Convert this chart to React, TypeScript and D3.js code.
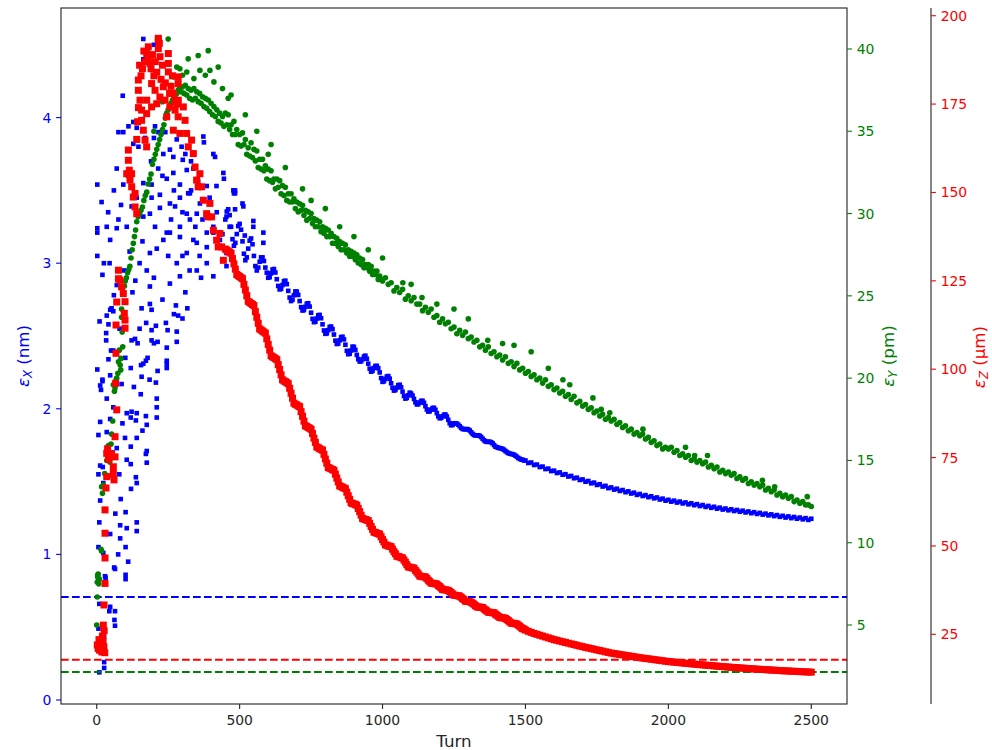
import React from 'react';
import * as d3 from 'd3';

// ---------- axis ticks ----------
const turnTicks = [0, 500, 1000, 1500, 2000, 2500];
const epsXTicks = [0, 1, 2, 3, 4];
const epsYTicks = [5, 10, 15, 20, 25, 30, 35, 40];
const epsZTicks = [25, 50, 75, 100, 125, 150, 175, 200];

// ---------- equilibrium levels (dashed lines) ----------
const epsXEq = 0.707;
const epsYEq = 2.14;
const epsZEq = 17.8;

// ---------- early, scattered phase: [turn, value] ----------
const epsXEarly: [number, number][] = [
  [163,4.54],[200,4.50],[163,4.40],[91,4.15],[128,3.97],[111,3.94],[76,3.90],[93,3.90],[140,3.93],[169,3.86],
  [128,3.82],[146,3.80],[204,3.94],[216,3.90],[200,3.86],[233,3.75],[256,3.78],[268,3.73],[297,3.80],[301,3.71],
  [70,3.65],[93,3.54],[2,3.54],[137,3.46],[163,3.55],[192,3.54],[221,3.47],[245,3.58],[268,3.62],[291,3.54],
  [315,3.64],[338,3.65],[320,3.48],[355,3.56],[17,3.42],[76,3.30],[70,3.24],[35,3.25],[2,3.24],[2,3.21],
  [47,3.16],[105,3.25],[122,3.39],[192,3.45],[163,3.32],[204,3.25],[245,3.21],[274,3.39],[315,3.34],[361,3.41],
  [291,3.18],[338,3.16],[385,3.11],[408,3.21],[454,3.32],[484,3.50],[484,3.48],[484,3.37],[518,3.19],
  [373,3.87],[375,3.83],[408,3.75],[414,3.73],[443,3.62],[445,3.58],[478,3.50],[480,3.48],[510,3.41],[513,3.39],
  [548,3.29],[548,3.25],[583,3.21],[583,3.14],
  [419,3.53],[385,3.53],[326,3.48],[291,3.45],[256,3.41],[221,3.38],[186,3.34],[350,3.34],[326,3.30],[291,3.25],
  [256,3.21],[233,3.16],[210,3.10],[186,3.07],[315,3.07],[350,3.14],[385,3.21],[408,3.25],[431,3.16],[454,3.07],
  [385,3.00],[350,2.95],[291,2.91],[256,2.86],[186,2.84],[408,2.91],[454,2.98],
  [2,3.05],[20,2.92],[45,3.0],[70,2.85],[95,2.95],[115,3.08],[135,2.88],[150,3.0],[175,2.95],[60,2.78],[125,2.8],
  [52,2.69],[58,2.67],[35,2.64],[47,2.68],[157,2.69],[186,2.72],[192,2.68],[277,2.71],[317,2.69],[285,2.64],
  [41,2.58],[173,2.59],[207,2.57],[242,2.59],[192,2.54],[248,2.54],[280,2.53],[33,2.52],[33,2.47],[122,2.47],
  [134,2.48],[143,2.45],[192,2.47],[213,2.46],[280,2.46],[58,2.40],[41,2.34],[119,2.28],[155,2.30],[163,2.31],
  [172,2.33],[178,2.35],[245,2.42],[245,2.33],[245,2.31],[245,2.28],[2,2.27],[47,2.23],[20,2.20],[20,2.19],
  [213,2.26],[157,2.22],[12,2.16],[15,2.13],[87,2.17],[207,2.18],[35,2.07],[154,2.10],[210,2.07],[210,2.01],
  [210,1.94],[58,2.01],[47,1.93],[12,1.91],[105,1.97],[119,1.94],[122,1.98],[140,1.97],[137,1.92],[172,1.95],
  [175,1.89],[6,1.82],[35,1.84],[99,1.80],[140,1.80],[119,1.74],[70,1.73],[175,1.71],[172,1.69],[105,1.65],
  [119,1.62],[175,1.63],[12,1.61],[21,1.60],[6,1.55],[79,1.55],[137,1.53],[140,1.49],[23,1.49],[12,1.37],
  [84,1.38],[65,1.28],[101,1.29],[9,1.22],[47,1.14],[82,1.20],[105,1.18],[140,1.22],[140,1.16],[82,1.11],
  [101,1.05],[6,1.05],[23,1.01],[61,0.91],[64,0.90],[31,0.84],[101,0.86],[101,0.83],
  [29,0.85],[9,0.66],[47,0.64],[44,0.61],[64,0.61],[62,0.55],[64,0.51],[6,0.49],[26,0.435],[26,0.26],
  [26,0.22],[9,0.19],
  [230,3.6],[260,3.3],[280,3.0],[300,3.35],[330,3.5],[345,3.25],[360,3.05],[370,3.3],[395,3.45],[420,3.35],
  [440,3.2],[465,3.25],[270,3.5],[310,3.75],[240,3.9],[280,3.85],[330,3.7],[215,3.65],[190,3.7],[250,3.05],
  [300,3.05],[325,2.95],[365,2.9],[230,2.75],[270,2.65],[300,2.62],[310,2.8],[200,2.9],[160,3.15],[140,3.45],
  [110,3.6],[85,3.4],[60,3.5],[40,3.35],[25,3.0],[10,2.6],[50,2.4],[80,2.55],[100,2.35],[130,2.15],
  [150,2.55],[185,2.2],[200,2.45],[160,1.85],[120,1.45],[90,1.9],[55,1.7],[30,1.3],[75,1.0],[110,0.95],
];

const epsYEarly: [number, number][] = [
  [0,5.0],[2,6.7],[2,7.6],[4,7.9],[5,8.1],[6,7.7],[3,8.0],[7,7.5],[9,7.8],[15,9.6],
  [17,9.5],[17,13.4],[20,13.0],[23,13.5],[28,14.2],[35,15.0],[41,14.05],[41,15.9],[46,14.9],[50,16.0],
  [52,16.6],[56,17.4],[58,19.6],[62,19.2],[64,19.4],[68,19.9],[70,20.0],[74,20.3],[76,21.0],[79,21.7],
  [82,20.8],[84,20.5],[85,21.2],[87,23.7],[87,24.2],[89,22.8],[91,21.9],[93,25.2],[97,25.6],[100,25.9],
  [104,26.1],[108,26.4],[112,26.6],[116,26.8],[120,27.3],[124,27.8],[128,28.2],[132,28.6],[136,29.0],[140,29.5],
  [145,29.8],[150,30.0],[155,30.2],[160,30.4],[165,30.8],[170,31.1],[175,31.3],[180,31.8],[185,32.1],[190,32.4],
  [195,33.0],[200,33.3],[205,33.6],[210,33.9],[215,34.2],[220,34.5],[225,34.8],[230,35.1],[235,35.4],[240,35.8],
  [245,36.1],[250,36.3],[255,36.5],[260,36.7],[265,36.9],[270,37.0],[275,37.2],[280,37.3],[285,37.5],[290,37.6],
  [295,37.4],[300,37.7],[305,37.3],[310,37.8],[315,37.2],[320,37.6],[325,37.0],[330,37.5],[335,36.9],[340,37.6],
  [345,37.0],[350,37.4],[355,36.8],[360,37.3],[365,36.7],[370,37.1],[375,36.5],[380,37.0],[385,36.4],[390,36.9],
  [395,36.2],[400,36.7],[405,36.0],[410,36.5],[415,35.9],[420,36.3],[425,35.6],[430,36.1],[435,35.5],[440,35.9],
  [445,35.3],
  [250,40.6],[320,39.4],[355,39.6],[390,39.9],[291,38.8],[315,38.6],[361,38.7],[396,38.7],[425,38.9],[270,38.3],
  [300,38.4],[340,38.2],[380,38.4],[410,38.0],[440,37.6],[460,37.0],[230,36.8],[200,35.0],[260,37.8],[280,38.9],
];

const epsZEarly: [number, number][] = [
  [2,22],[5,21],[8,23.5],[10,20.5],[12,22],[15,21],[18,20],[20,24.5],[22,23],[25,21.5],
  [26,26],[28,19.8],[23,27.6],[25.5,33.3],[29,39.4],[29,46.6],[29,53.6],[29,60.2],[32.5,66.4],[35,69.6],
  [58,70.5],[60.5,68.7],[58,72.4],[46.5,75.2],[35,76.2],[38,77.5],[52,76],[64,75.2],[41,74.5],[64,80.9],
  [70,88.5],[66,96],[67.5,104.5],[67.5,112.5],[99,111.6],[99,113.9],[96.5,115.8],[70,119],[99,119.1],[76,128],
  [81.5,125.2],[87,123.3],[93,121.4],[76,125.6],
  [110.6,162],[110.6,159.1],[114,156.3],[116.4,153.5],[122.3,151.6],[128,148.7],[134,145.9],[140,144],[105,155.3],[122,155.3],
  [134,149.7],[140,165],[143,170],[146,174],
  [145.6,181.8],[145.6,178.9],[151.4,176.1],[157.2,173.3],[157,170.4],[163,167.6],[169,164.8],[174.7,162.9],[180.5,191.2],[180.5,188.4],
  [186.4,186.5],[174.7,176.1],[175,189.3],[215.5,193.6],[219,192.2],
  [215.5,193.1],[215.5,190.7],[221.3,188.4],[250.5,189.3],[250.5,186.5],[250.5,184.1],[192,180.8],[204,178.9],[221,177],[239,176.1],
  [256,174.2],[274,173.3],[285.4,176.1],[285,180.8],[285,182.7],[285,171.4],[268,178],[233,179.9],[210,175.1],[192,174.2],
  [174.7,172.3],[245,171.4],[268,167.6],[291,166.7],
  [190,185],[200,183],[210,184],[225,182],[240,181],[260,180],[275,176],[230,186],[195,189],[205,187],
  [255,178],[265,183],[280,175],[160,185],[165,190],[170,187],[150,186],[155,183],
  [303,174.2],[309,170.4],[314.6,166.7],[320.4,162.9],[332,164.8],[338,161],[344,157.2],[349.5,153.5],[355,151.6],[361,155.3],
  [367,151.6],[373,147.8],[384.5,144],[390,143.1],[396,146.9],[402,143.1],[408,139.3],[419.5,136.5],[425,134.6],[431,138.4],
  [437,134.6],[443,130.8],
];

// ---------- decay phase ----------
// blue and red: every 5 turns from 450 to 1495, then every 10 turns to 2500
const fineTurnsXZ = d3.range(450, 1500, 5);
const coarseTurnsXZ = d3.range(1500, 2501, 10);
// green: every 5 turns from 450 to 995, then every 10 turns to 2500
const fineTurnsY = d3.range(450, 1000, 5);
const coarseTurnsY = d3.range(1000, 2501, 10);

const epsXFine = [
  3.30, 3.355, 3.37, 3.33, 3.25, 3.165, 3.12, 3.14, 3.20, 3.255,
  3.27, 3.23, 3.15, 3.065, 3.02, 3.04, 3.10, 3.155, 3.17, 3.13,
  3.05, 2.98, 2.95, 2.97, 3.01, 3.04, 3.04, 3.015, 2.97, 2.935,
  2.90, 2.904, 2.93, 2.956, 2.96, 2.936, 2.89, 2.844, 2.82, 2.824,
  2.85, 2.876, 2.88, 2.856, 2.81, 2.764, 2.74, 2.749, 2.78, 2.806,
  2.805, 2.782, 2.74, 2.698, 2.675, 2.678, 2.70, 2.722, 2.725, 2.702,
  2.66, 2.618, 2.595, 2.598, 2.62, 2.642, 2.645, 2.622, 2.58, 2.538,
  2.515, 2.518, 2.54, 2.562, 2.565, 2.547, 2.51, 2.468, 2.445, 2.448,
  2.47, 2.492, 2.495, 2.477, 2.44, 2.398, 2.375, 2.378, 2.40, 2.427,
  2.425, 2.404, 2.37, 2.341, 2.325, 2.326, 2.34, 2.359, 2.365, 2.344,
  2.31, 2.276, 2.255, 2.261, 2.28, 2.294, 2.295, 2.279, 2.25, 2.211,
  2.185, 2.189, 2.205, 2.222, 2.225, 2.207, 2.175, 2.144, 2.125, 2.129,
  2.145, 2.162, 2.165, 2.148, 2.118, 2.088, 2.07, 2.075, 2.093, 2.111,
  2.105, 2.091, 2.068, 2.045, 2.03, 2.032, 2.043, 2.054, 2.055, 2.041,
  2.018, 1.995, 1.981, 1.983, 1.994, 2.005, 2.007, 1.993, 1.97, 1.948,
  1.935, 1.937, 1.948, 1.959, 1.961, 1.947, 1.924, 1.901, 1.887, 1.889,
  1.90, 1.901, 1.898, 1.891, 1.88, 1.869, 1.862, 1.859, 1.86, 1.861,
  1.858, 1.851, 1.839, 1.828, 1.82, 1.817, 1.817, 1.818, 1.814, 1.806,
  1.795, 1.784, 1.776, 1.773, 1.773, 1.774, 1.77, 1.763, 1.751, 1.74,
  1.736, 1.732, 1.73, 1.728, 1.724, 1.718, 1.71, 1.702, 1.696, 1.692,
  1.69, 1.688, 1.684, 1.678, 1.67, 1.662, 1.656, 1.652, 1.65, 1.645,
];

const epsXCoarse = [
  1.645, 1.628, 1.631, 1.614, 1.617,
  1.600, 1.603, 1.586, 1.589, 1.572, 1.575, 1.559, 1.563, 1.547, 1.551,
  1.535, 1.539, 1.523, 1.527, 1.511, 1.515, 1.499, 1.504, 1.488, 1.493,
  1.477, 1.482, 1.466, 1.471, 1.455, 1.46, 1.445, 1.451, 1.436, 1.442,
  1.427, 1.433, 1.418, 1.424, 1.409, 1.415, 1.401, 1.407, 1.393, 1.399,
  1.385, 1.391, 1.377, 1.383, 1.369, 1.375, 1.362, 1.369, 1.356, 1.363,
  1.35, 1.357, 1.344, 1.351, 1.338, 1.345, 1.332, 1.339, 1.326, 1.333,
  1.32, 1.327, 1.314, 1.321, 1.308, 1.315, 1.303, 1.31, 1.298, 1.305,
  1.293, 1.30, 1.288, 1.295, 1.283, 1.29, 1.278, 1.285, 1.273, 1.28,
  1.268, 1.275, 1.263, 1.27, 1.258, 1.265, 1.253, 1.261, 1.249, 1.257,
  1.245, 1.253, 1.241, 1.249, 1.237, 1.245,
];

const epsZFine = [
  134, 133.7, 133.4, 133.1, 132.8, 131.3, 129.8, 128.3,
  126.8, 126.5, 126.2, 125.9, 125.6, 124.0, 122.4, 120.8,
  119.2, 118.9, 118.6, 118.3, 118.0, 116.3, 114.7, 113.0,
  111.4, 111.1, 110.8, 110.5, 110.2, 108.6, 107.0, 105.4,
  103.8, 103.5, 103.3, 103.0, 102.7, 101.3, 99.9, 98.4,
  97.0, 96.7, 96.5, 96.2, 95.9, 94.6, 93.2, 91.8,
  90.4, 90.1, 89.9, 89.6, 89.4, 88.0, 86.7, 85.3,
  84.0, 83.8, 83.5, 83.3, 83.0, 81.8, 80.5, 79.3,
  78.0, 77.8, 77.5, 77.3, 77.1, 75.9, 74.6, 73.4,
  72.2, 72.0, 71.8, 71.6, 71.4, 70.3, 69.2, 68.1,
  67.0, 66.8, 66.6, 66.4, 66.2, 65.2, 64.2, 63.2,
  62.2, 62.0, 61.9, 61.7, 61.5, 60.6, 59.7, 58.7,
  57.8, 57.6, 57.5, 57.3, 57.2, 56.4, 55.5, 54.7,
  53.9, 53.8, 53.6, 53.5, 53.3, 52.6, 51.8, 51.1,
  50.3, 50.2, 50.0, 49.9, 49.8, 49.1, 48.4, 47.8,
  47.1, 47.0, 46.9, 46.7, 46.6, 46.0, 45.4, 44.7,
  44.1, 44.0, 43.9, 43.8, 43.7, 43.1, 42.6, 42.1,
  41.5, 41.4, 41.3, 41.3, 41.2, 40.8, 40.3, 39.9,
  39.5, 39.4, 39.4, 39.3, 39.2, 38.8, 38.5, 38.1,
  37.7, 37.6, 37.6, 37.5, 37.4, 37.1, 36.8, 36.4,
  36.1, 36.0, 36.0, 35.9, 35.8, 35.5, 35.1, 34.8,
  34.4, 34.3, 34.3, 34.2, 34.1, 33.8, 33.5, 33.1,
  32.8, 32.7, 32.7, 32.6, 32.6, 32.2, 31.9, 31.6,
  31.3, 31.2, 31.2, 31.1, 31.1, 30.7, 30.4, 30.1,
  29.8, 29.7, 29.7, 29.6, 29.5, 29.2, 28.9, 28.5,
  28.2, 28.1, 28.1, 28.0, 27.9, 27.6, 27.3, 26.9,
  26.6, 26.5,
];

const epsZCoarse = [
  26.2, 25.85, 25.55, 25.25, 25.0, 24.75, 24.5, 24.25, 24.0, 23.75,
  23.5, 23.3, 23.1, 22.9, 22.7, 22.5, 22.3, 22.1, 21.9, 21.7,
  21.5, 21.32, 21.14, 20.96, 20.78, 20.6, 20.42, 20.24, 20.06, 19.88,
  19.7, 19.57, 19.44, 19.31, 19.18, 19.05, 18.92, 18.79, 18.66, 18.53,
  18.4, 18.29, 18.18, 18.07, 17.96, 17.85, 17.74, 17.63, 17.52, 17.41,
  17.3, 17.22, 17.14, 17.06, 16.98, 16.9, 16.82, 16.74, 16.66, 16.58,
  16.5, 16.43, 16.36, 16.29, 16.22, 16.15, 16.08, 16.01, 15.94, 15.87,
  15.8, 15.74, 15.68, 15.62, 15.56, 15.5, 15.44, 15.38, 15.32, 15.26,
  15.2, 15.15, 15.1, 15.05, 15.0, 14.95, 14.9, 14.85, 14.8, 14.75,
  14.7, 14.66, 14.62, 14.58, 14.54, 14.5, 14.46, 14.42, 14.38, 14.34,
  14.3,
];

const epsYFine = [
  36.1, 35.4, 36.0, 35.1, 35.4, 34.8, 35.6, 34.8, 35.1, 34.2,
  34.8, 34.1, 34.9, 34.2, 34.5, 33.6, 34.0, 33.5, 34.3, 33.4,
  33.9, 33.2, 33.8, 32.8, 33.3, 32.7, 33.3, 32.6, 32.9, 32.1,
  32.7, 32.0, 32.6, 31.9, 32.1, 31.5, 32.1, 31.6, 32.0, 31.2,
  31.7, 31.1, 31.6, 30.8, 31.2, 30.7, 31.2, 30.7, 30.9, 30.3,
  30.7, 30.1, 30.6, 30.2, 30.5, 29.9, 30.2, 29.6, 30.1, 29.7,
  30.0, 29.4, 29.7, 29.2, 29.6, 29.2, 29.5, 28.9, 29.2, 28.8,
  29.1, 28.6, 29.0, 28.6, 28.8, 28.2, 28.6, 28.2, 28.5, 28.0,
  28.3, 27.8, 28.2, 27.8, 28.1, 27.6, 27.8, 27.4, 27.7, 27.4,
  27.6, 27.2, 27.5, 27.0, 27.3, 26.9, 27.2, 26.7, 26.9, 26.7,
  26.9, 26.5, 26.8, 26.3, 26.5, 26.3, 26.5, 26.0, 26.2, 26.0,
];

const epsYCoarse = [
  25.9, 26.1, 25.7, 25.8, 25.3,
  25.5, 25.2, 25.4, 24.8, 25.0, 24.7, 24.9, 24.5, 24.5, 24.1,
  24.3, 24.0, 24.2, 23.7, 23.8, 23.4, 23.6, 23.3, 23.4, 23.0,
  23.1, 22.7, 22.9, 22.6, 22.8, 22.4, 22.5, 22.2, 22.3, 21.9,
  22.0, 21.7, 21.9, 21.5, 21.6, 21.3, 21.4, 21.1, 21.3, 20.9,
  21.0, 20.7, 20.9, 20.5, 20.6, 20.3, 20.4, 20.1, 20.2, 19.9,
  20.0, 19.7, 19.9, 19.5, 19.6, 19.3, 19.4, 19.1, 19.2, 18.9,
  19.0, 18.7, 18.9, 18.5, 18.6, 18.3, 18.4, 18.1, 18.2, 17.9,
  18.0, 17.7, 17.8, 17.5, 17.6, 17.4, 17.5, 17.2, 17.3, 17.0,
  17.1, 16.8, 16.9, 16.6, 16.7, 16.5, 16.6, 16.3, 16.4, 16.1,
  16.2, 15.9, 16.0, 15.7, 15.8, 15.7, 15.8, 15.5, 15.6, 15.3,
  15.4, 15.2, 15.3, 15.0, 15.1, 14.9, 15.0, 14.8, 14.9, 14.6,
  14.7, 14.5, 14.6, 14.3, 14.4, 14.2, 14.3, 14.1, 14.2, 13.9,
  14.0, 13.8, 13.9, 13.6, 13.7, 13.5, 13.6, 13.4, 13.5, 13.2,
  13.3, 13.1, 13.2, 12.9, 13.0, 12.8, 12.9, 12.7, 12.8, 12.5,
  12.6, 12.4, 12.5, 12.3, 12.3, 12.2,
];

const epsYOutliers: [number, number][] = [
  [470,37.2],[520,36.0],[560,35.0],[610,34.2],[660,32.8],[720,31.5],[800,30.3],[900,28.6],[1000,27.3],[1071,25.8],
  [1138,24.9],[1190,24.5],[1250,24.2],[1368,22.3],[1460,22.0],[1520,21.6],[1631,19.9],[1655,19.6],[1736,18.8],[1765,18.1],
  [1795,17.9],[1911,16.9],[2060,15.8],[2092,15.3],[2137,15.3],[2329,13.8],[2372,13.4],[2486,12.8],[600,33.6],[750,30.8],
  [850,29.2],[950,27.8],[1100,25.7],[1300,23.6],[1420,22.1],[1580,20.6],
];

// ---------- layout ----------
const W = 992, H = 750;
const PL = 61, PR = 847, PT = 8, PB = 704;
const ZX = 931;
const FONT = 'DejaVu Sans, sans-serif';
const TICK_FS = 13.9;
const LABEL_FS = 16.7;
const TL = 4.9;

const BLUE = '#0000ff', GREEN = '#008000', RED = '#ff0000';

const zip = (ts: number[], vs: number[]): [number, number][] => ts.map((t, i) => [t, vs[i]] as [number, number]);

export default function App() {
  const x = d3.scaleLinear().domain([-125, 2625]).range([PL, PR]);
  const yX = d3.scaleLinear().domain([-0.0275, 4.7527]).range([PB, PT]);
  const yY = d3.scaleLinear().domain([0.2005, 42.49]).range([PB, PT]);
  const yZ = d3.scaleLinear().domain([5.29, 202.18]).range([PB, PT]);

  const blue = [...epsXEarly, ...zip(fineTurnsXZ, epsXFine), ...zip(coarseTurnsXZ, epsXCoarse)];
  const green = [...epsYEarly, ...zip(fineTurnsY, epsYFine), ...zip(coarseTurnsY, epsYCoarse), ...epsYOutliers];
  const red = [...epsZEarly, ...zip(fineTurnsXZ, epsZFine), ...zip(coarseTurnsXZ, epsZCoarse)];

  const bs = 4.6, rs = 7, gr = 2.8;
  const dash = '7.7,3.3';

  return (
    <svg width={W} height={H} style={{ position: 'absolute', left: 0, top: 0, background: '#fff' }} fontFamily={FONT}>
      <rect x={0} y={0} width={W} height={H} fill="#fff" />
      <defs>
        <clipPath id="plotclip"><rect x={PL} y={PT} width={PR - PL} height={PB - PT} /></clipPath>
      </defs>
      <g clipPath="url(#plotclip)">
        {blue.map(([t, v], i) => (
          <rect key={'b' + i} x={x(t) - bs / 2} y={yX(v) - bs / 2} width={bs} height={bs} fill={BLUE} />
        ))}
        <line x1={PL} x2={PR} y1={yX(epsXEq)} y2={yX(epsXEq)} stroke={BLUE} strokeWidth={2} strokeDasharray={dash} />
        {green.map(([t, v], i) => (
          <circle key={'g' + i} cx={x(t)} cy={yY(v)} r={gr} fill={GREEN} />
        ))}
        <line x1={PL} x2={PR} y1={yY(epsYEq)} y2={yY(epsYEq)} stroke={GREEN} strokeWidth={2} strokeDasharray={dash} />
        {red.map(([t, v], i) => (
          <rect key={'r' + i} x={x(t) - rs / 2} y={yZ(v) - rs / 2} width={rs} height={rs} fill={RED} />
        ))}
        <line x1={PL} x2={PR} y1={yZ(epsZEq)} y2={yZ(epsZEq)} stroke={RED} strokeWidth={2} strokeDasharray={dash} />
      </g>

      {/* frame */}
      <rect x={PL} y={PT} width={PR - PL} height={PB - PT} fill="none" stroke="#222" strokeWidth={1.1} />
      <line x1={ZX} x2={ZX} y1={PT} y2={PB} stroke="#222" strokeWidth={1.1} />

      {/* x axis */}
      {turnTicks.map((t) => (
        <g key={'xt' + t}>
          <line x1={x(t)} x2={x(t)} y1={PB} y2={PB + TL} stroke="#222" strokeWidth={1.1} />
          <text x={x(t)} y={725} textAnchor="middle" fontSize={TICK_FS} fill="#262626">{t}</text>
        </g>
      ))}
      <text x={(PL + PR) / 2} y={746.5} textAnchor="middle" fontSize={LABEL_FS} fill="#262626">Turn</text>

      {/* left axis εX */}
      {epsXTicks.map((v) => (
        <g key={'yx' + v}>
          <line x1={PL - TL} x2={PL} y1={yX(v)} y2={yX(v)} stroke={BLUE} strokeWidth={1.1} />
          <text x={PL - 9.7} y={yX(v) + 5} textAnchor="end" fontSize={TICK_FS} fill={BLUE}>{v}</text>
        </g>
      ))}
      <text transform={`translate(29,356) rotate(-90)`} textAnchor="middle" fontSize={LABEL_FS} fill={BLUE}>
        <tspan fontStyle="italic">ε</tspan>
        <tspan fontStyle="italic" fontSize={LABEL_FS * 0.7} dy={3}>X</tspan>
        <tspan dy={-3}> (nm)</tspan>
      </text>

      {/* right axis εY */}
      {epsYTicks.map((v) => (
        <g key={'yy' + v}>
          <line x1={PR} x2={PR + TL} y1={yY(v)} y2={yY(v)} stroke={GREEN} strokeWidth={1.1} />
          <text x={PR + 9.7} y={yY(v) + 5} textAnchor="start" fontSize={TICK_FS} fill={GREEN}>{v}</text>
        </g>
      ))}
      <text transform={`translate(894,356) rotate(-90)`} textAnchor="middle" fontSize={LABEL_FS} fill={GREEN}>
        <tspan fontStyle="italic">ε</tspan>
        <tspan fontStyle="italic" fontSize={LABEL_FS * 0.7} dy={3}>Y</tspan>
        <tspan dy={-3}> (pm)</tspan>
      </text>

      {/* offset right axis εZ */}
      {epsZTicks.map((v) => (
        <g key={'yz' + v}>
          <line x1={ZX} x2={ZX + TL} y1={yZ(v)} y2={yZ(v)} stroke={RED} strokeWidth={1.1} />
          <text x={ZX + 9.7} y={yZ(v) + 5} textAnchor="start" fontSize={TICK_FS} fill={RED}>{v}</text>
        </g>
      ))}
      <text transform={`translate(985,357) rotate(-90)`} textAnchor="middle" fontSize={LABEL_FS} fill={RED}>
        <tspan fontStyle="italic">ε</tspan>
        <tspan fontStyle="italic" fontSize={LABEL_FS * 0.7} dy={3}>Z</tspan>
        <tspan dy={-3}> (μm)</tspan>
      </text>
    </svg>
  );
}
